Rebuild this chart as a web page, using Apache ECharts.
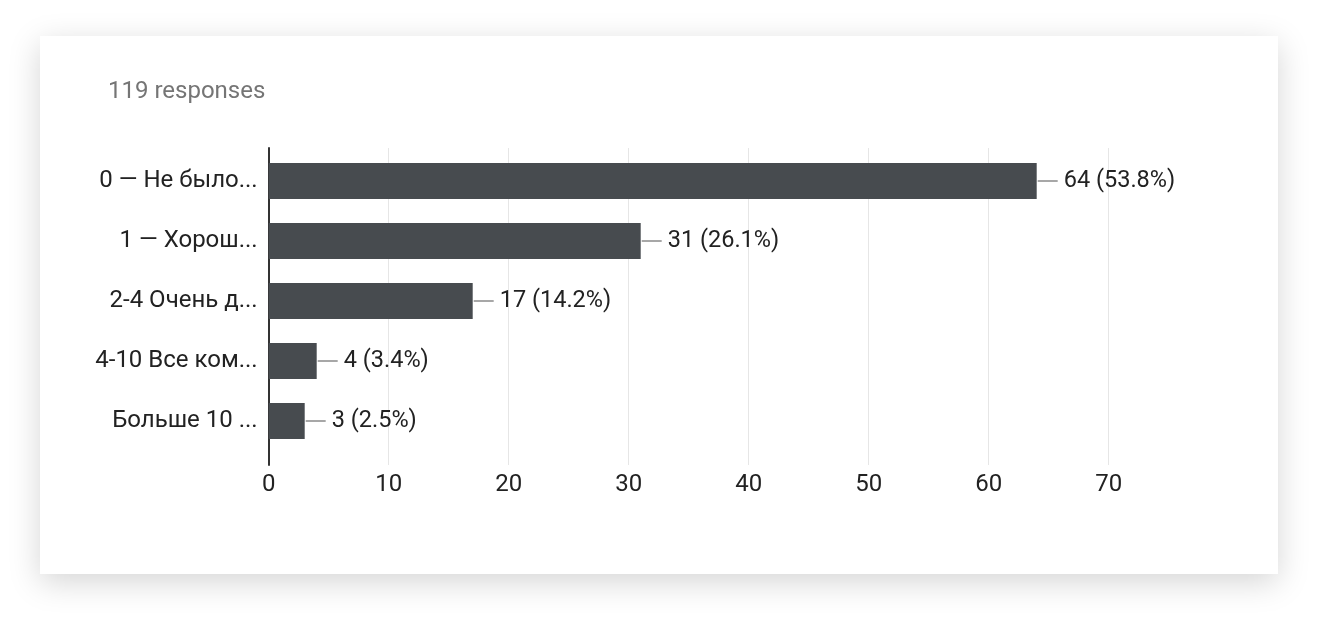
<!DOCTYPE html>
<html>
<head>
<meta charset="utf-8">
<script src="https://cdn.jsdelivr.net/npm/echarts@6/dist/echarts.min.js"></script>
<style>
  html, body { margin: 0; padding: 0; background: #ffffff; width: 1318px; height: 618px; overflow: hidden; }
  #card {
    position: absolute; left: 40px; top: 36px; width: 1238px; height: 538px;
    background: #ffffff;
    box-shadow: 0 8px 30px rgba(0,0,0,0.17);
  }
  #chart { width: 1238px; height: 538px; }
</style>
</head>
<body>
<div id="card"><div id="chart"></div></div>
<script>
// Survey answers (truncated as in the form summary) and counts
const categories = ['0 — Не было...', '1 — Хорош...', '2-4 Очень д...', '4-10 Все ком...', 'Больше 10 ...'];
const counts = [64, 31, 17, 4, 3];
const percents = ['53.8%', '26.1%', '14.2%', '3.4%', '2.5%'];
const totalResponses = 119;
const xTicks = { min: 0, max: 70, interval: 10 };

const font = 'Roboto, "Noto Sans", sans-serif';
const chart = echarts.init(document.getElementById('chart'), null, { renderer: 'canvas' });

chart.setOption({
  animation: false,
  title: {
    text: totalResponses + ' responses',
    left: 63, top: 39,
    textStyle: { fontFamily: font, fontSize: 24, fontWeight: 'normal', color: '#757575' }
  },
  grid: [
    // frame: gridlines, zero line and tick labels
    { left: 228.7, top: 112, width: 840, height: 317 },
    // bars
    { left: 228.7, top: 115, width: 840, height: 300 }
  ],
  xAxis: [
    {
      gridIndex: 0, type: 'value', min: xTicks.min, max: xTicks.max, interval: xTicks.interval,
      axisLine: { show: false }, axisTick: { show: false },
      splitLine: { show: true, lineStyle: { color: '#e6e6e6', width: 1 } },
      axisLabel: { fontFamily: font, fontSize: 24, color: '#222222', margin: 8 }
    },
    {
      gridIndex: 1, type: 'value', min: xTicks.min, max: xTicks.max, interval: xTicks.interval,
      show: false
    }
  ],
  yAxis: [
    {
      gridIndex: 0, type: 'value', min: 0, max: 1,
      axisLine: { show: true, lineStyle: { color: '#333333', width: 2 } },
      axisTick: { show: false }, axisLabel: { show: false }, splitLine: { show: false }
    },
    {
      gridIndex: 1, type: 'category', data: categories, inverse: true,
      axisLine: { show: false }, axisTick: { show: false }, splitLine: { show: false },
      axisLabel: { fontFamily: font, fontSize: 24, color: '#222222', margin: 11 }
    }
  ],
  series: [
    {
      type: 'bar', xAxisIndex: 1, yAxisIndex: 1,
      data: counts, barWidth: 36,
      itemStyle: { color: '#474b4f' },
      label: {
        show: true, position: 'right', distance: 27,
        fontFamily: font, fontSize: 23.5, color: '#222222',
        formatter: p => counts[p.dataIndex] + ' (' + percents[p.dataIndex] + ')'
      }
    },
    {
      // short leader line between each bar end and its value label
      type: 'custom', xAxisIndex: 1, yAxisIndex: 1,
      data: counts.map((v, i) => [v, i]),
      silent: true,
      renderItem: (params, api) => {
        const p = api.coord([api.value(0), api.value(1)]);
        return {
          type: 'line',
          shape: { x1: p[0] + 1, y1: p[1], x2: p[0] + 21, y2: p[1] },
          style: { stroke: '#8a8a8a', lineWidth: 1.5 }
        };
      }
    }
  ]
});
</script>
</body>
</html>
